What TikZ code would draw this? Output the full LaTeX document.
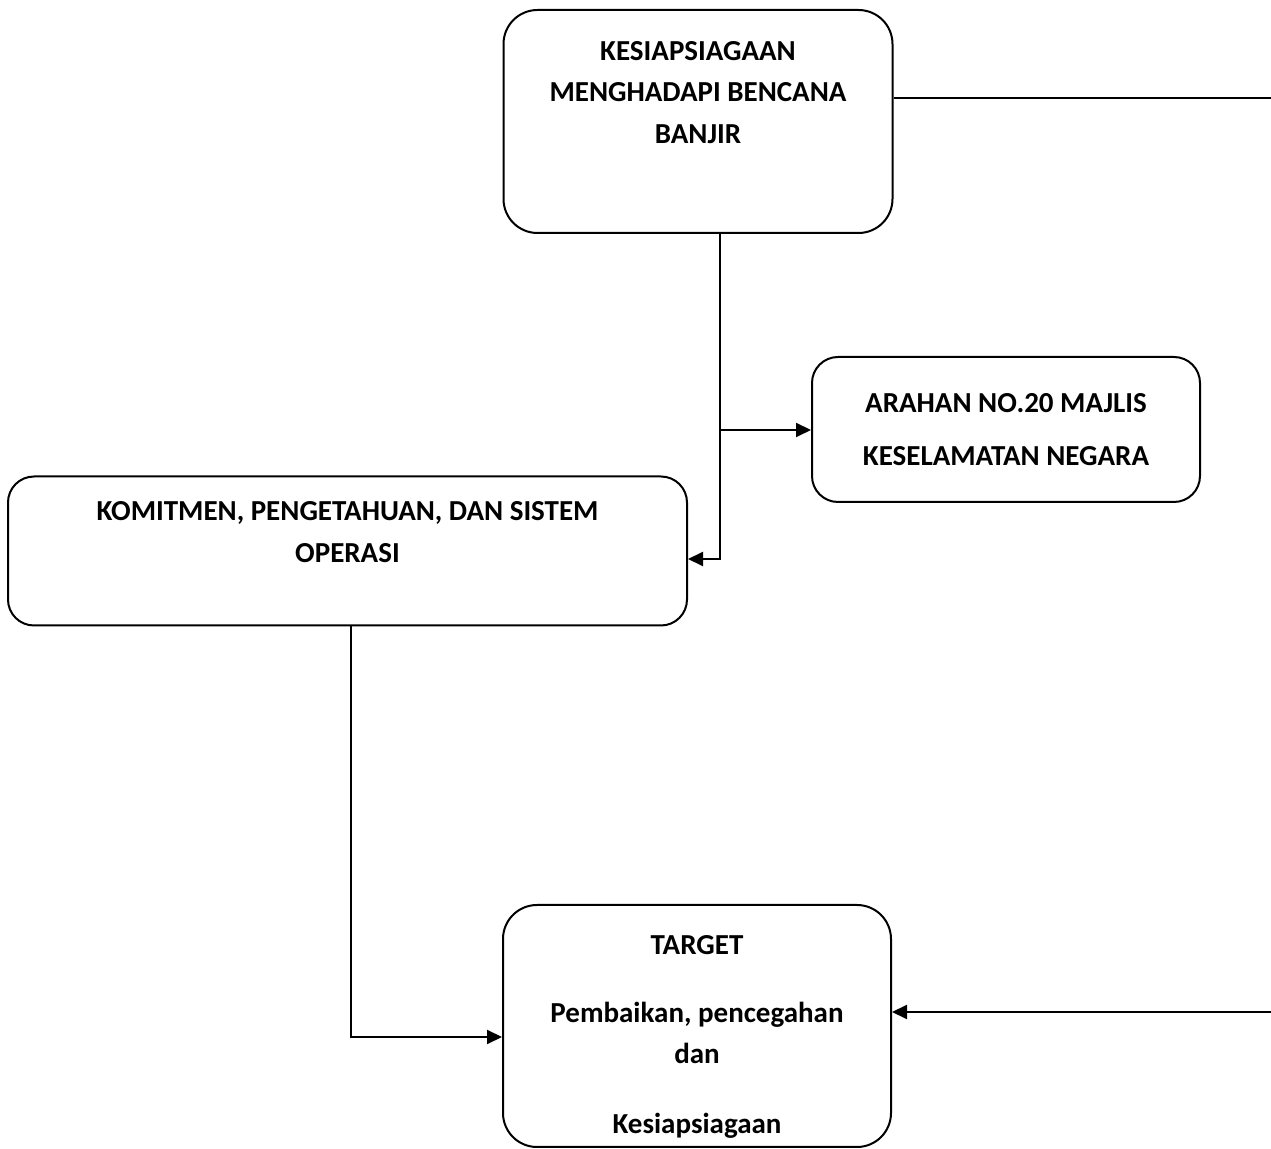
\documentclass[tikz,border=0pt]{standalone}
\usepackage{fontspec}
\setmainfont{Carlito}
\usetikzlibrary{arrows.meta, positioning}

\begin{document}
\begin{tikzpicture}[
        x=0.5pt, y=-0.5pt,
        % Style for the rounded boxes
        flowbox/.style={rectangle, draw=black, line width=1pt, align=center, inner sep=0pt, font=\bfseries\fontsize{14.5pt}{20.75pt}\selectfont},
        % Style for the connectors
        linkarrow/.style={line width=1pt, -{Triangle[length=7.5pt, width=7pt]}},
        link/.style={line width=1pt}
    ]
    \clip (0,0) rectangle (1271,1149);

    % --- TOP ---
    \node (flood) [flowbox, rounded corners=17pt, minimum width=194.5pt, minimum height=111.5pt] at (698,121.5)
    {KESIAPSIAGAAN\\ MENGHADAPI BENCANA\\ BANJIR\\[8.6pt]\mbox{}};

    % --- MIDDLE ---
    \node (arahan) [flowbox, rounded corners=13pt, minimum width=194pt, minimum height=72.5pt] at (1006,429.5)
    {ARAHAN NO.20 MAJLIS\\[5.75pt] KESELAMATAN NEGARA};

    \node (komitmen) [flowbox, rounded corners=13pt, minimum width=339.5pt, minimum height=74.5pt] at (347.5,551)
    {KOMITMEN, PENGETAHUAN, DAN SISTEM\\ OPERASI\\[-1.9pt]\mbox{}};

    % --- BOTTOM ---
    \node (target) [flowbox, rounded corners=17pt, minimum width=194pt, minimum height=121pt] at (697,1026)
    {TARGET\\[13.25pt] Pembaikan, pencegahan\\ dan\\[14.25pt] Kesiapsiagaan\\[-29.4pt]\mbox{}};

    % --- CONNECTORS ---
    \coordinate (farTop) at (1300,98);
    \coordinate (farBot) at (1300,1012);
    \coordinate (split) at (720,430);
    \coordinate (bend) at (720,559);
    \coordinate (drop) at (351,1037);

    \draw[linkarrow] (flood.east |- farTop) -- (farTop) -- (farBot) -- (target.east |- farBot);
    \draw[link] (flood.south -| split) -- (split);
    \draw[linkarrow] (split) -- (arahan.west |- split);
    \draw[linkarrow] (split) -- (bend) -- (komitmen.east |- bend);
    \draw[linkarrow] (komitmen.south -| drop) -- (drop) -- (target.west |- drop);

\end{tikzpicture}
\end{document}
